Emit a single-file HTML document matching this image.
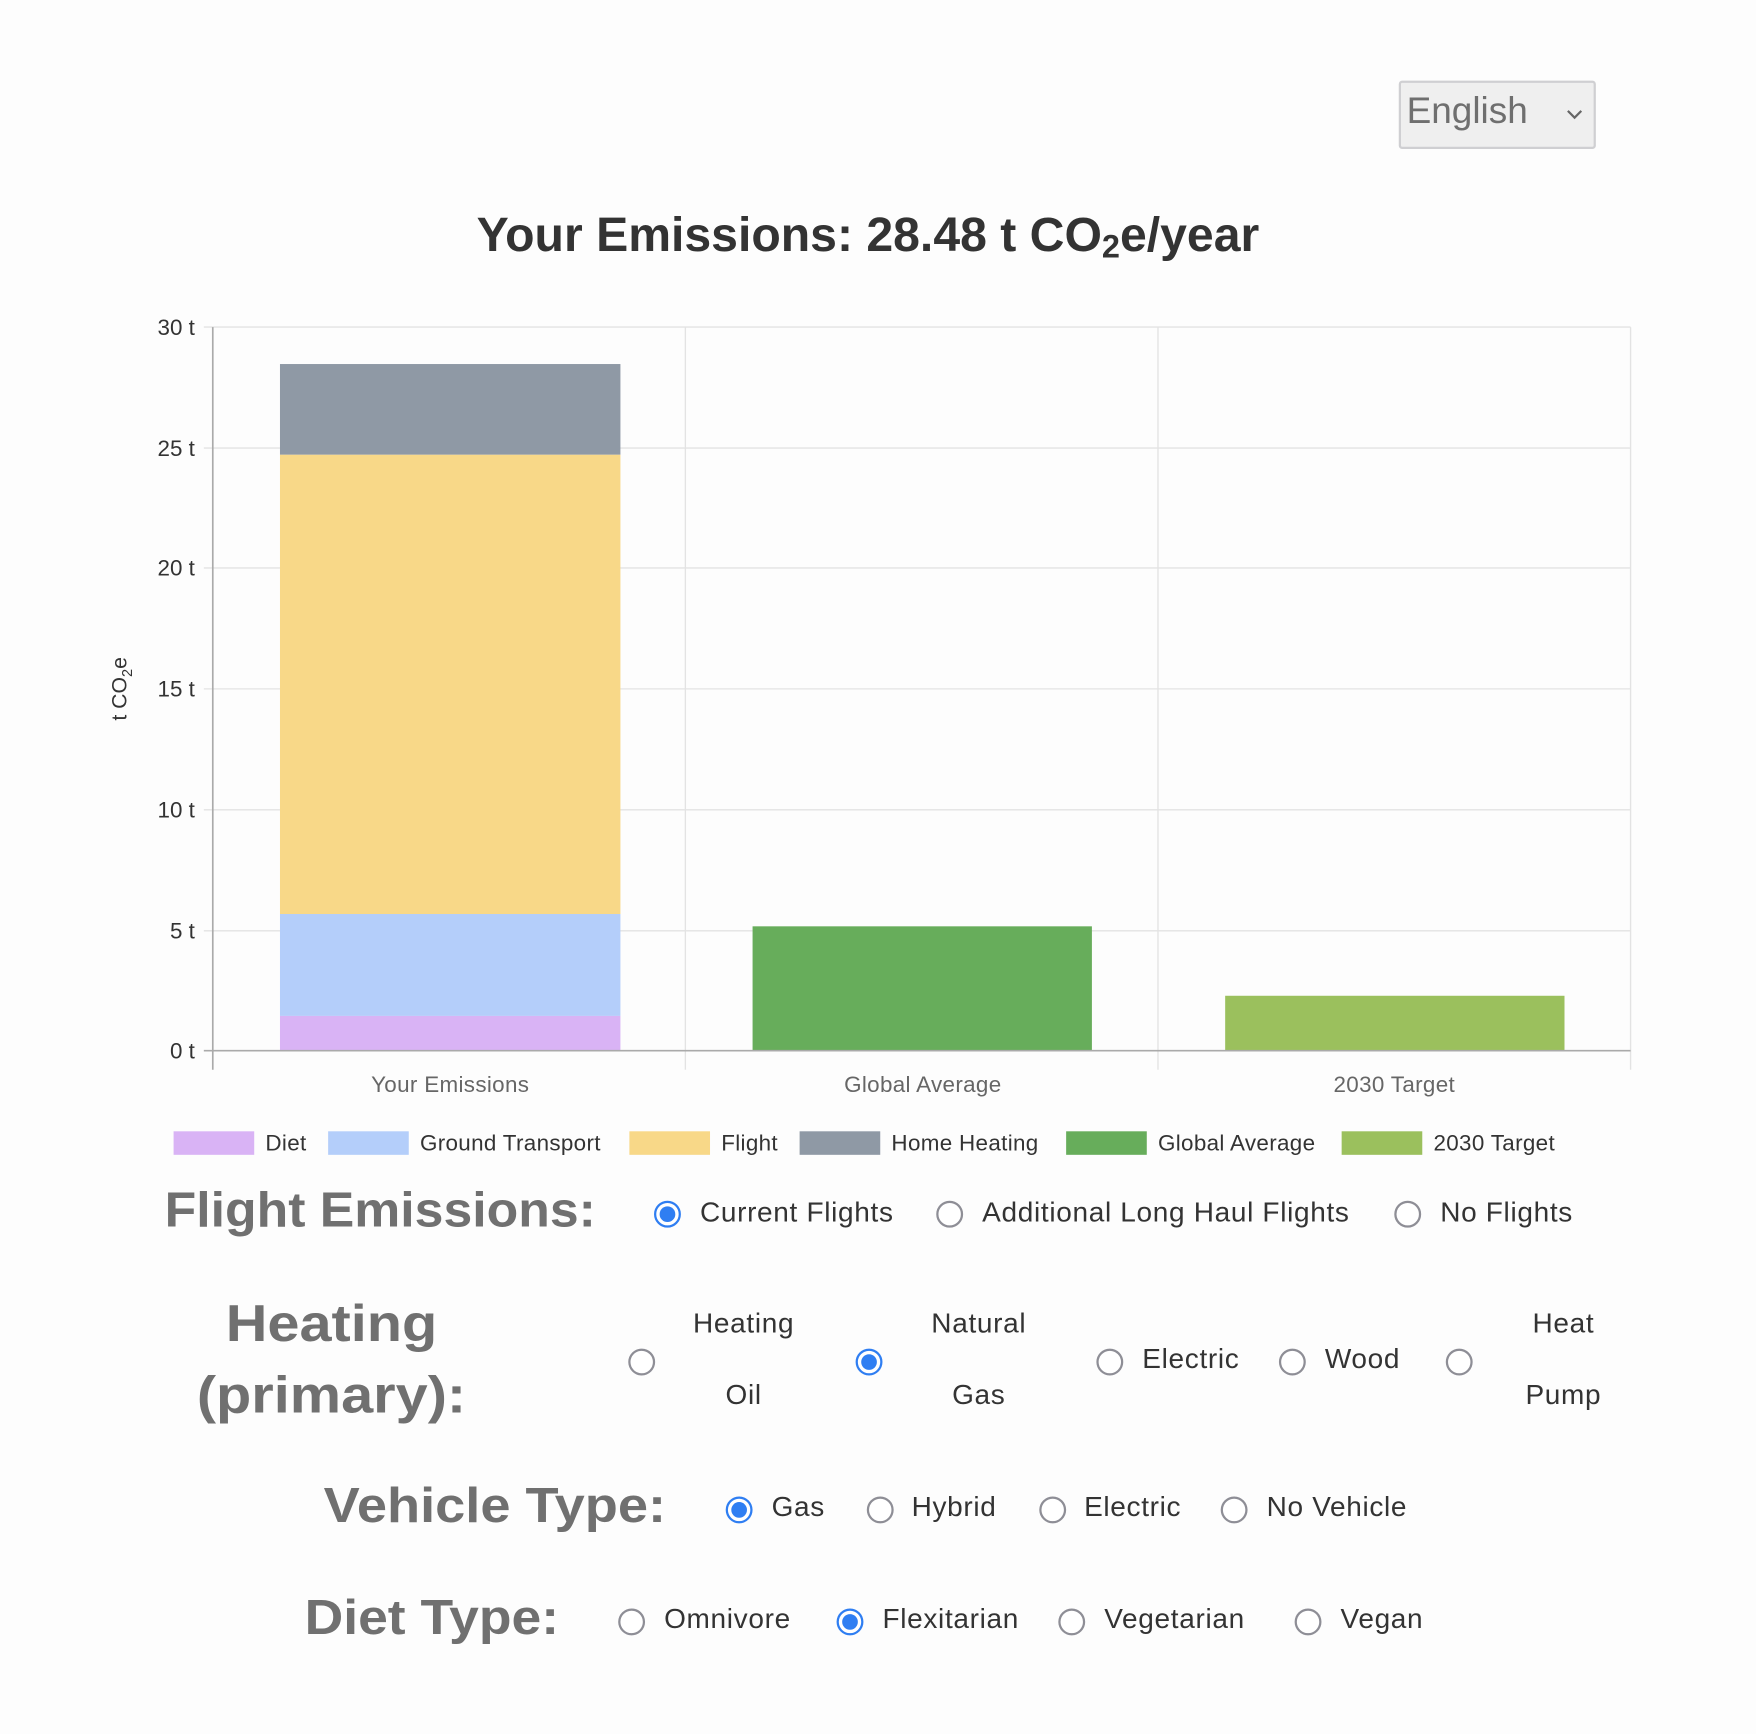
<!DOCTYPE html>
<html><head><meta charset="utf-8"><style>
html,body{margin:0;padding:0;background:#fdfdfd;width:1756px;height:1734px;overflow:hidden}
#w{position:absolute;left:0;top:0;width:1568px;height:1548px;transform:scale(1.1199,1.1201);transform-origin:0 0;font-family:"Liberation Sans",sans-serif}
.a{position:absolute;white-space:nowrap}
.r{position:absolute;width:20px;height:20px;border:2px solid #8e8e96;border-radius:50%;background:#fff;margin:-12px 0 0 -12px}
.r.c{border-color:#2f7ef2}
.r.c::after{content:"";position:absolute;left:3px;top:3px;width:14px;height:14px;border-radius:50%;background:#2f7ef2}
.L{position:absolute;font-weight:bold;font-size:44px;color:#707070;white-space:nowrap;transform-origin:0 0;transform:scaleX(1.05)}
.Lc{position:absolute;font-weight:bold;font-size:46px;color:#707070;white-space:nowrap;transform:translateX(-50%) scaleX(1.12)}
.t{position:absolute;font-size:25px;letter-spacing:0.6px;color:#333;white-space:nowrap;transform:translateY(-50%)}
.tc{position:absolute;font-size:25px;letter-spacing:0.6px;color:#333;white-space:nowrap;transform:translate(-50%,-50%)}
</style></head><body><div id="w">
<div class="a" style="left:1249px;top:72px;width:172px;height:57px;background:#efefef;border:2px solid #cfcfd2;border-radius:3px"></div>
<div class="a" style="left:1256px;top:80px;font-size:33px;color:#6f6f6f">English</div>
<svg class="a" style="left:1398px;top:96px" width="16" height="12"><path d="M2 3 L8 9 L14 3" fill="none" stroke="#666" stroke-width="2"/></svg>
<div class="a" style="left:0;width:1550px;top:186px;text-align:center;font-size:43px;font-weight:bold;color:#333">Your Emissions: 28.48 t CO<sub style="font-size:29px;vertical-align:-6px">2</sub>e/year</div>
<svg class="a" style="left:0;top:0" width="1568" height="1060" font-family="Liberation Sans, sans-serif">
<g stroke="#e3e3e3" stroke-width="1.2">
<line x1="182" y1="292" x2="1456" y2="292"/><line x1="182" y1="400" x2="1456" y2="400"/><line x1="182" y1="507" x2="1456" y2="507"/><line x1="182" y1="615" x2="1456" y2="615"/><line x1="182" y1="723" x2="1456" y2="723"/><line x1="182" y1="831" x2="1456" y2="831"/>
<line x1="612" y1="292" x2="612" y2="955"/><line x1="1034" y1="292" x2="1034" y2="955"/><line x1="1456" y1="292" x2="1456" y2="955"/>
</g>
<rect x="250" y="325" width="304" height="81" fill="#8f99a5"/>
<rect x="250" y="406" width="304" height="410" fill="#f8d888"/>
<rect x="250" y="816" width="304" height="91" fill="#b4cefa"/>
<rect x="250" y="907" width="304" height="31" fill="#d9b3f5"/>
<rect x="672" y="827" width="303" height="111" fill="#67ad5b"/>
<rect x="1094" y="889" width="303" height="49" fill="#9bc05d"/>
<g stroke="#aaa" stroke-width="1.5"><line x1="190" y1="292" x2="190" y2="955"/><line x1="182" y1="938" x2="1456" y2="938"/></g>
<g font-size="20" fill="#333" text-anchor="end">
<text x="174" y="299">30 t</text><text x="174" y="407">25 t</text><text x="174" y="514">20 t</text><text x="174" y="622">15 t</text><text x="174" y="730">10 t</text><text x="174" y="838">5 t</text><text x="174" y="945">0 t</text></g>
<text transform="translate(113,615) rotate(-90)" text-anchor="middle" font-size="19" fill="#333">t CO<tspan font-size="13" dy="5">2</tspan><tspan dy="-5">e</tspan></text>
<g font-size="20" fill="#666" text-anchor="middle" letter-spacing="0.3"><text x="402" y="975">Your Emissions</text><text x="824" y="975">Global Average</text><text x="1245" y="975">2030 Target</text></g>
<g font-size="20" fill="#333" letter-spacing="0.3">
<rect x="155" y="1010" width="72" height="21" fill="#d9b3f5"/><text x="237" y="1027">Diet</text>
<rect x="293" y="1010" width="72" height="21" fill="#b4cefa"/><text x="375" y="1027">Ground Transport</text>
<rect x="562" y="1010" width="72" height="21" fill="#f8d888"/><text x="644" y="1027">Flight</text>
<rect x="714" y="1010" width="72" height="21" fill="#8f99a5"/><text x="796" y="1027">Home Heating</text>
<rect x="952" y="1010" width="72" height="21" fill="#67ad5b"/><text x="1034" y="1027">Global Average</text>
<rect x="1198" y="1010" width="72" height="21" fill="#9bc05d"/><text x="1280" y="1027">2030 Target</text>
</g></svg>

<div class="L" style="left:147px;top:1056px">Flight Emissions:</div>
<div class="r c" style="left:596px;top:1084px"></div><div class="t" style="left:625px;top:1083px">Current Flights</div>
<div class="r" style="left:848px;top:1084px"></div><div class="t" style="left:877px;top:1083px">Additional Long Haul Flights</div>
<div class="r" style="left:1257px;top:1084px"></div><div class="t" style="left:1286px;top:1083px">No Flights</div>

<div class="Lc" style="left:296px;top:1154px">Heating</div>
<div class="Lc" style="left:296px;top:1218px">(primary):</div>
<div class="r" style="left:573px;top:1216px"></div><div class="tc" style="left:664px;top:1182px">Heating</div><div class="tc" style="left:664px;top:1246px">Oil</div>
<div class="r c" style="left:776px;top:1216px"></div><div class="tc" style="left:874px;top:1182px">Natural</div><div class="tc" style="left:874px;top:1246px">Gas</div>
<div class="r" style="left:991px;top:1216px"></div><div class="t" style="left:1020px;top:1214px">Electric</div>
<div class="r" style="left:1154px;top:1216px"></div><div class="t" style="left:1183px;top:1214px">Wood</div>
<div class="r" style="left:1303px;top:1216px"></div><div class="tc" style="left:1396px;top:1182px">Heat</div><div class="tc" style="left:1396px;top:1246px">Pump</div>

<div class="L" style="left:289px;top:1320px;transform:scaleX(1.1)">Vehicle Type:</div>
<div class="r c" style="left:660px;top:1348px"></div><div class="t" style="left:689px;top:1346px">Gas</div>
<div class="r" style="left:786px;top:1348px"></div><div class="t" style="left:814px;top:1346px">Hybrid</div>
<div class="r" style="left:940px;top:1348px"></div><div class="t" style="left:968px;top:1346px">Electric</div>
<div class="r" style="left:1102px;top:1348px"></div><div class="t" style="left:1131px;top:1346px">No Vehicle</div>

<div class="L" style="left:272px;top:1420px;transform:scaleX(1.085)">Diet Type:</div>
<div class="r" style="left:564px;top:1448px"></div><div class="t" style="left:593px;top:1446px">Omnivore</div>
<div class="r c" style="left:759px;top:1448px"></div><div class="t" style="left:788px;top:1446px">Flexitarian</div>
<div class="r" style="left:957px;top:1448px"></div><div class="t" style="left:986px;top:1446px">Vegetarian</div>
<div class="r" style="left:1168px;top:1448px"></div><div class="t" style="left:1197px;top:1446px">Vegan</div>
</div></body></html>
